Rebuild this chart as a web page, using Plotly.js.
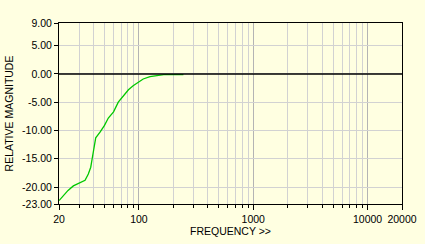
<!DOCTYPE html>
<html><head><meta charset="utf-8">
<script src="https://cdn.plot.ly/plotly-3.0.1.min.js"></script>
<style>html,body{margin:0;padding:0;background:#FFFFE1;}</style>
</head><body>
<div id="chart" style="width:425px;height:244px;"></div>
<script>
const frequency = [20, 22, 24, 26.7, 30.5, 33.8, 36.1, 37.9, 39, 40.5, 41.9, 45.7, 50, 54, 60, 66, 71, 81, 89, 101, 109, 125, 143, 165, 200, 245];
const magnitude = [-22.4, -21.5, -20.6, -19.8, -19.3, -18.8, -17.7, -16.5, -15.0, -12.6, -11.3, -10.3, -9.1, -7.8, -6.7, -5.0, -4.2, -2.8, -2.1, -1.25, -0.9, -0.5, -0.28, -0.14, -0.12, -0.12];
const xTickVals = [20, 100, 1000, 10000, 20000];
const xTickText = ["20", "100", "1000", "10000", "20000"];
const xMinorVals = [30, 40, 50, 60, 70, 80, 90, 200, 300, 400, 500, 600, 700, 800, 900, 2000, 3000, 4000, 5000, 6000, 7000, 8000, 9000];
const yTickVals = [9, 5, 0, -5, -10, -15, -20, -23];
const yTickText = ["9.00", "5.00", "0.00", "-5.00", "-10.00", "-15.00", "-20.00", "-23.00"];

const font = {family: "Liberation Sans, Arial, sans-serif", size: 10.5, color: "#000"};
Plotly.newPlot("chart", [{
  x: frequency, y: magnitude, type: "scatter", mode: "lines",
  line: {color: "#00C800", width: 1.3}, hoverinfo: "skip"
}], {
  width: 425, height: 244,
  margin: {l: 59, r: 23, t: 23, b: 40},
  paper_bgcolor: "#FFFFE1", plot_bgcolor: "#FFFFE1",
  font: font, showlegend: false,
  xaxis: {
    type: "log", range: [Math.log10(20), Math.log10(20000)],
    tickmode: "array", tickvals: xTickVals, ticktext: xTickText,
    ticks: "outside", ticklen: 5, tickcolor: "#000", tickwidth: 1,
    showgrid: true, gridcolor: "#B4B4B4", gridwidth: 1,
    minor: {tickmode: "array", tickvals: xMinorVals, ticks: "outside", ticklen: 3, tickcolor: "#000", showgrid: true, gridcolor: "#D2D2D2", gridwidth: 1},
    showline: true, linecolor: "#000", linewidth: 1, mirror: true,
    zeroline: false, tickfont: font,
    title: {text: "FREQUENCY >>", font: font, standoff: 4}
  },
  yaxis: {
    range: [-23, 9],
    tickmode: "array", tickvals: yTickVals, ticktext: yTickText,
    ticks: "outside", ticklen: 4, tickcolor: "#000", tickwidth: 1,
    showgrid: true, gridcolor: "#D2D2D2", gridwidth: 1,
    showline: true, linecolor: "#000", linewidth: 1, mirror: true,
    zeroline: false, tickfont: font,
    title: {text: "RELATIVE MAGNITUDE", font: font, standoff: 6}
  },
  shapes: [{type: "line", xref: "paper", yref: "y", x0: 0, x1: 1, y0: 0, y1: 0, layer: "above", line: {color: "#000", width: 1.5}}]
}, {displayModeBar: false, staticPlot: true});
</script>
</body></html>
